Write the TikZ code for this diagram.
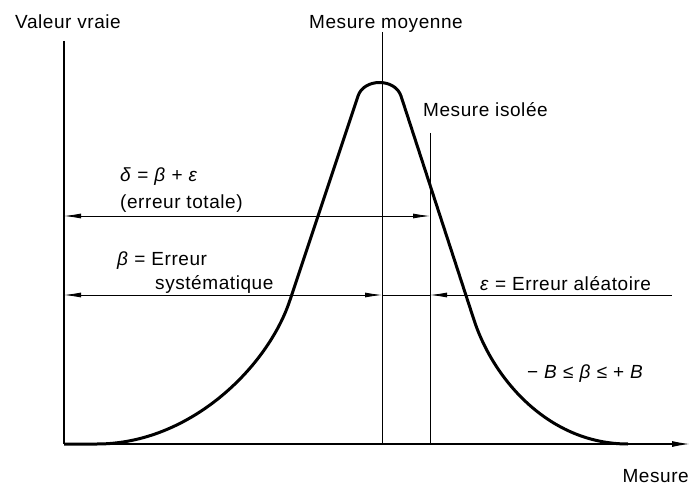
\documentclass[tikz,border=0pt]{standalone}
\usepackage{fontspec}
\setmainfont{Liberation Sans}[LetterSpace=3]
\usetikzlibrary{arrows.meta}

\begin{document}
\begin{tikzpicture}[x=1pt,y=-1pt,every node/.style={font=\fontsize{19}{22}\selectfont,inner sep=0pt},
  >={Latex[length=17pt,width=5pt]},
  axe/.style={line width=1.3pt},
  fin/.style={line width=0.8pt},
  courbe/.style={line width=3pt,line join=round}]
  \useasboundingbox (0,0) rectangle (691,484);
  % axes
  \coordinate (o) at (64,444);
  \coordinate (yhaut) at (64,41);
  \coordinate (xfin) at (690,444);
  \draw[axe] (yhaut) -- (o);
  \draw[axe,-{Latex[length=18pt,width=6pt]}] (o) -- (xfin);
  % verticales
  \coordinate (moyh) at (382,32);
  \coordinate (moyb) at (382,444);
  \coordinate (isoh) at (430,133);
  \coordinate (isob) at (430,444);
  \draw[fin] (moyh) -- (moyb);
  \draw[fin] (isoh) -- (isob);
  % cotes
  \coordinate (dg) at (64,216);
  \coordinate (dd) at (430,216);
  \coordinate (bg) at (64,295);
  \coordinate (bd) at (382,295);
  \coordinate (eg) at (430,295);
  \coordinate (ed) at (672,295);
  \draw[fin,<->] (dg) -- (dd);
  \draw[fin,<->] (bg) -- (bd);
  \draw[fin] (bd) -- (eg);
  \draw[fin,<-] (eg) -- (ed);
  % courbe
  \draw[courbe] (o) -- (97,444) .. controls (190,444) and (268,367) .. (290,300)
    -- (358,96) .. controls (364,78) and (395,78) .. (401,96)
    -- (474,320) .. controls (494,381) and (550,444) .. (628,444);
  % textes
  \node[anchor=base] (vraie) at (68,29) {Valeur vraie};
  \node[anchor=base] (moyenne) at (386,29) {Mesure moyenne};
  \node[anchor=base west] (isolee) at (423,117) {Mesure isolée};
  \node[anchor=base west] (delta) at (120,182) {\textit{δ} = \textit{β} + \textit{ε}};
  \node[anchor=base west] (totale) at (120,208) {(erreur totale)};
  \node[anchor=base west] (beta) at (117,265) {\textit{β} = Erreur};
  \node[anchor=base west] (syst) at (155,289) {systématique};
  \node[anchor=base west] (eps) at (480,290) {\textit{ε} = Erreur aléatoire};
  \node[anchor=base west] (borne) at (527,378) {− \textit{B} ≤ \textit{β} ≤ + \textit{B}};
  \node[anchor=base east] (mesure) at (689,482) {Mesure};
\end{tikzpicture}
\end{document}
